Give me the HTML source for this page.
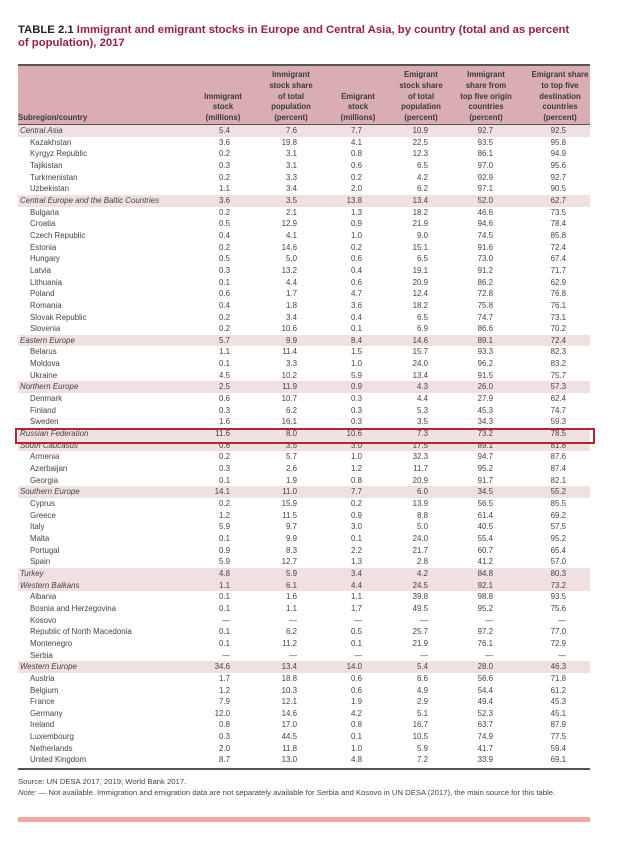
<!DOCTYPE html>
<html><head><meta charset="utf-8"><style>
body{margin:0;width:620px;height:849px;background:#fff;position:relative;font-family:"Liberation Sans",sans-serif;overflow:hidden}
.t{position:absolute;left:18px;top:24px;font-size:11.3px;font-weight:bold;color:#9b1d48;line-height:13px;width:562px}
.t b{color:#222}
.hd{position:absolute;left:18px;top:64px;width:572px;height:58px;background:#d9adb2;border-top:2px solid #555;border-bottom:2px solid #555}
.h{position:absolute;font-size:7.8px;font-weight:bold;color:#3a3a3a;text-align:center;line-height:10.8px;bottom:0px;transform:translateX(-50%);white-space:nowrap}
table{position:absolute;left:18px;top:125px;width:572px;border-collapse:collapse;font-size:7.9px;color:#444}
td{height:11.65px;padding:0;line-height:11.65px;text-align:right;white-space:nowrap}
td:first-child{text-align:left;padding-left:12px}
tr.r td{background:#f1e0e1}
tr.r td:first-child{font-style:italic;padding-left:2px}
.rule{position:absolute;left:18px;top:768px;width:572px;height:2px;background:#555}
.f{position:absolute;left:18px;top:776px;font-size:7.7px;color:#444;line-height:11px;width:575px}
.bar{position:absolute;left:18px;top:817px;width:572px;height:5px;background:#f4a99d}
.box{position:absolute;left:15px;top:428px;width:576px;height:12px;border:2px solid #b5262d}
</style></head><body>
<div class="t"><b>TABLE 2.1</b> Immigrant and emigrant stocks in Europe and Central Asia, by country (total and as percent of population), 2017</div>
<div class="hd">
<div class="h" style="left:0;transform:none;text-align:left">Subregion/country</div>
<div class="h" style="left:205px">Immigrant<br>stock<br>(millions)</div>
<div class="h" style="left:273px">Immigrant<br>stock share<br>of total<br>population<br>(percent)</div>
<div class="h" style="left:340px">Emigrant<br>stock<br>(millions)</div>
<div class="h" style="left:403px">Emigrant<br>stock share<br>of total<br>population<br>(percent)</div>
<div class="h" style="left:468px">Immigrant<br>share from<br>top five origin<br>countries<br>(percent)</div>
<div class="h" style="left:542px">Emigrant share<br>to top five<br>destination<br>countries<br>(percent)</div>
</div>
<table>
<colgroup><col style="width:172px"><col style="width:40px"><col style="width:67px"><col style="width:65px"><col style="width:66px"><col style="width:65px"><col style="width:73px"><col style="width:24px"></colgroup>
<tr class="r"><td>Central Asia</td><td>5.4</td><td>7.6</td><td>7.7</td><td>10.9</td><td>92.7</td><td>92.5</td><td></td></tr>
<tr><td>Kazakhstan</td><td>3.6</td><td>19.8</td><td>4.1</td><td>22.5</td><td>93.5</td><td>95.8</td><td></td></tr>
<tr><td>Kyrgyz Republic</td><td>0.2</td><td>3.1</td><td>0.8</td><td>12.3</td><td>86.1</td><td>94.9</td><td></td></tr>
<tr><td>Tajikistan</td><td>0.3</td><td>3.1</td><td>0.6</td><td>6.5</td><td>97.0</td><td>95.6</td><td></td></tr>
<tr><td>Turkmenistan</td><td>0.2</td><td>3.3</td><td>0.2</td><td>4.2</td><td>92.9</td><td>92.7</td><td></td></tr>
<tr><td>Uzbekistan</td><td>1.1</td><td>3.4</td><td>2.0</td><td>6.2</td><td>97.1</td><td>90.5</td><td></td></tr>
<tr class="r"><td>Central Europe and the Baltic Countries</td><td>3.6</td><td>3.5</td><td>13.8</td><td>13.4</td><td>52.0</td><td>62.7</td><td></td></tr>
<tr><td>Bulgaria</td><td>0.2</td><td>2.1</td><td>1.3</td><td>18.2</td><td>46.6</td><td>73.5</td><td></td></tr>
<tr><td>Croatia</td><td>0.5</td><td>12.9</td><td>0.9</td><td>21.9</td><td>94.6</td><td>78.4</td><td></td></tr>
<tr><td>Czech Republic</td><td>0.4</td><td>4.1</td><td>1.0</td><td>9.0</td><td>74.5</td><td>85.8</td><td></td></tr>
<tr><td>Estonia</td><td>0.2</td><td>14.6</td><td>0.2</td><td>15.1</td><td>91.6</td><td>72.4</td><td></td></tr>
<tr><td>Hungary</td><td>0.5</td><td>5.0</td><td>0.6</td><td>6.5</td><td>73.0</td><td>67.4</td><td></td></tr>
<tr><td>Latvia</td><td>0.3</td><td>13.2</td><td>0.4</td><td>19.1</td><td>91.2</td><td>71.7</td><td></td></tr>
<tr><td>Lithuania</td><td>0.1</td><td>4.4</td><td>0.6</td><td>20.9</td><td>86.2</td><td>62.9</td><td></td></tr>
<tr><td>Poland</td><td>0.6</td><td>1.7</td><td>4.7</td><td>12.4</td><td>72.8</td><td>76.8</td><td></td></tr>
<tr><td>Romania</td><td>0.4</td><td>1.8</td><td>3.6</td><td>18.2</td><td>75.8</td><td>76.1</td><td></td></tr>
<tr><td>Slovak Republic</td><td>0.2</td><td>3.4</td><td>0.4</td><td>6.5</td><td>74.7</td><td>73.1</td><td></td></tr>
<tr><td>Slovenia</td><td>0.2</td><td>10.6</td><td>0.1</td><td>6.9</td><td>86.6</td><td>70.2</td><td></td></tr>
<tr class="r"><td>Eastern Europe</td><td>5.7</td><td>9.9</td><td>8.4</td><td>14.6</td><td>89.1</td><td>72.4</td><td></td></tr>
<tr><td>Belarus</td><td>1.1</td><td>11.4</td><td>1.5</td><td>15.7</td><td>93.3</td><td>82.3</td><td></td></tr>
<tr><td>Moldova</td><td>0.1</td><td>3.3</td><td>1.0</td><td>24.0</td><td>96.2</td><td>83.2</td><td></td></tr>
<tr><td>Ukraine</td><td>4.5</td><td>10.2</td><td>5.9</td><td>13.4</td><td>91.5</td><td>75.7</td><td></td></tr>
<tr class="r"><td>Northern Europe</td><td>2.5</td><td>11.9</td><td>0.9</td><td>4.3</td><td>26.0</td><td>57.3</td><td></td></tr>
<tr><td>Denmark</td><td>0.6</td><td>10.7</td><td>0.3</td><td>4.4</td><td>27.9</td><td>62.4</td><td></td></tr>
<tr><td>Finland</td><td>0.3</td><td>6.2</td><td>0.3</td><td>5.3</td><td>45.3</td><td>74.7</td><td></td></tr>
<tr><td>Sweden</td><td>1.6</td><td>16.1</td><td>0.3</td><td>3.5</td><td>34.3</td><td>59.3</td><td></td></tr>
<tr class="r"><td>Russian Federation</td><td>11.6</td><td>8.0</td><td>10.6</td><td>7.3</td><td>73.2</td><td>78.5</td><td></td></tr>
<tr class="r"><td>South Caucasus</td><td>0.6</td><td>3.5</td><td>3.0</td><td>17.5</td><td>89.1</td><td>81.8</td><td></td></tr>
<tr><td>Armenia</td><td>0.2</td><td>5.7</td><td>1.0</td><td>32.3</td><td>94.7</td><td>87.6</td><td></td></tr>
<tr><td>Azerbaijan</td><td>0.3</td><td>2.6</td><td>1.2</td><td>11.7</td><td>95.2</td><td>87.4</td><td></td></tr>
<tr><td>Georgia</td><td>0.1</td><td>1.9</td><td>0.8</td><td>20.9</td><td>91.7</td><td>82.1</td><td></td></tr>
<tr class="r"><td>Southern Europe</td><td>14.1</td><td>11.0</td><td>7.7</td><td>6.0</td><td>34.5</td><td>55.2</td><td></td></tr>
<tr><td>Cyprus</td><td>0.2</td><td>15.9</td><td>0.2</td><td>13.9</td><td>56.5</td><td>85.5</td><td></td></tr>
<tr><td>Greece</td><td>1.2</td><td>11.5</td><td>0.9</td><td>8.8</td><td>61.4</td><td>69.2</td><td></td></tr>
<tr><td>Italy</td><td>5.9</td><td>9.7</td><td>3.0</td><td>5.0</td><td>40.5</td><td>57.5</td><td></td></tr>
<tr><td>Malta</td><td>0.1</td><td>9.9</td><td>0.1</td><td>24.0</td><td>55.4</td><td>95.2</td><td></td></tr>
<tr><td>Portugal</td><td>0.9</td><td>8.3</td><td>2.2</td><td>21.7</td><td>60.7</td><td>65.4</td><td></td></tr>
<tr><td>Spain</td><td>5.9</td><td>12.7</td><td>1.3</td><td>2.8</td><td>41.2</td><td>57.0</td><td></td></tr>
<tr class="r"><td>Turkey</td><td>4.8</td><td>5.9</td><td>3.4</td><td>4.2</td><td>84.8</td><td>80.3</td><td></td></tr>
<tr class="r"><td>Western Balkans</td><td>1.1</td><td>6.1</td><td>4.4</td><td>24.5</td><td>92.1</td><td>73.2</td><td></td></tr>
<tr><td>Albania</td><td>0.1</td><td>1.6</td><td>1.1</td><td>39.8</td><td>98.8</td><td>93.5</td><td></td></tr>
<tr><td>Bosnia and Herzegovina</td><td>0.1</td><td>1.1</td><td>1.7</td><td>49.5</td><td>95.2</td><td>75.6</td><td></td></tr>
<tr><td>Kosovo</td><td>—</td><td>—</td><td>—</td><td>—</td><td>—</td><td>—</td><td></td></tr>
<tr><td>Republic of North Macedonia</td><td>0.1</td><td>6.2</td><td>0.5</td><td>25.7</td><td>97.2</td><td>77.0</td><td></td></tr>
<tr><td>Montenegro</td><td>0.1</td><td>11.2</td><td>0.1</td><td>21.9</td><td>76.1</td><td>72.9</td><td></td></tr>
<tr><td>Serbia</td><td>—</td><td>—</td><td>—</td><td>—</td><td>—</td><td>—</td><td></td></tr>
<tr class="r"><td>Western Europe</td><td>34.6</td><td>13.4</td><td>14.0</td><td>5.4</td><td>28.0</td><td>46.3</td><td></td></tr>
<tr><td>Austria</td><td>1.7</td><td>18.8</td><td>0.6</td><td>6.6</td><td>56.6</td><td>71.8</td><td></td></tr>
<tr><td>Belgium</td><td>1.2</td><td>10.3</td><td>0.6</td><td>4.9</td><td>54.4</td><td>61.2</td><td></td></tr>
<tr><td>France</td><td>7.9</td><td>12.1</td><td>1.9</td><td>2.9</td><td>49.4</td><td>45.3</td><td></td></tr>
<tr><td>Germany</td><td>12.0</td><td>14.6</td><td>4.2</td><td>5.1</td><td>52.3</td><td>45.1</td><td></td></tr>
<tr><td>Ireland</td><td>0.8</td><td>17.0</td><td>0.8</td><td>16.7</td><td>63.7</td><td>87.9</td><td></td></tr>
<tr><td>Luxembourg</td><td>0.3</td><td>44.5</td><td>0.1</td><td>10.5</td><td>74.9</td><td>77.5</td><td></td></tr>
<tr><td>Netherlands</td><td>2.0</td><td>11.8</td><td>1.0</td><td>5.9</td><td>41.7</td><td>59.4</td><td></td></tr>
<tr><td>United Kingdom</td><td>8.7</td><td>13.0</td><td>4.8</td><td>7.2</td><td>33.9</td><td>69.1</td><td></td></tr>
</table>
<div class="box"></div>
<div class="rule"></div>
<div class="f">Source: UN DESA 2017, 2019; World Bank 2017.<br><i>Note:</i> — Not available. Immigration and emigration data are not separately available for Serbia and Kosovo in UN DESA (2017), the main source for this table.</div>
<div class="bar"></div>
</body></html>
